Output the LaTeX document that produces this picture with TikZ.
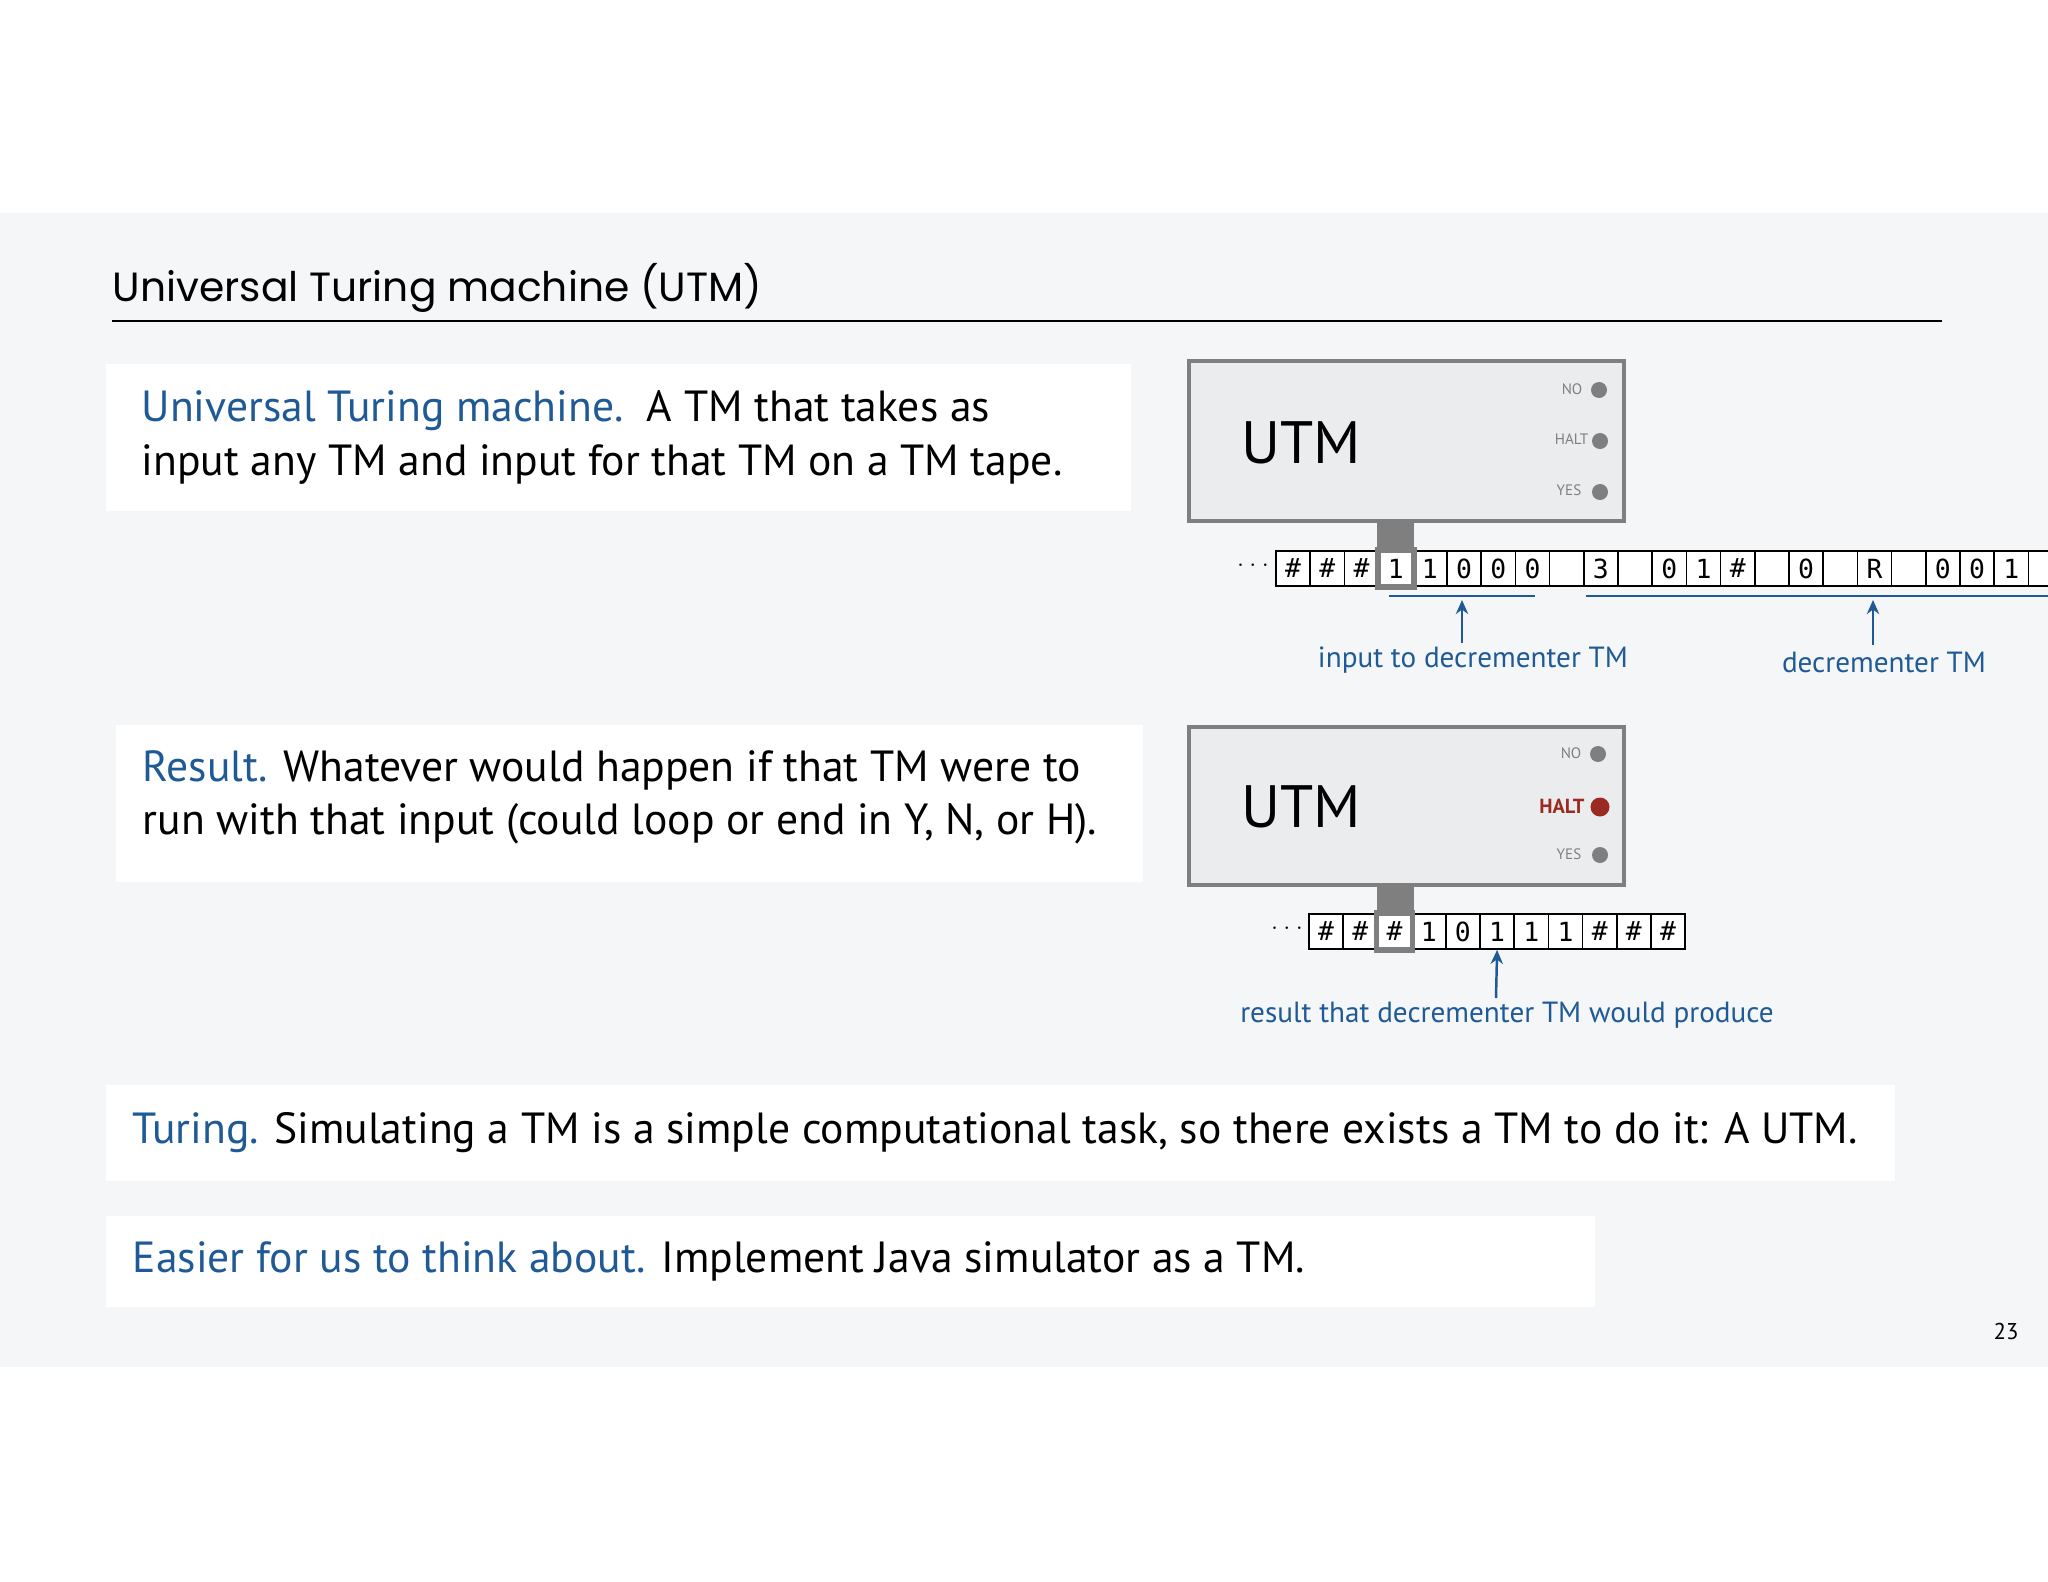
\documentclass[tikz,border=0pt]{standalone}
\usepackage{fontspec}
\setmainfont{PT Sans}
\newfontfamily\tapefont{DejaVu Sans Mono}
\newfontfamily\titlefont{Poppins}
\usetikzlibrary{arrows.meta}
\definecolor{slidebg}{HTML}{F4F6F8}
\definecolor{tmblue}{HTML}{1F5A96}
\definecolor{boxgray}{HTML}{EBECEE}
\definecolor{edgegray}{HTML}{7F7F7F}
\definecolor{haltred}{HTML}{9B2A22}
\tikzset{
  txtbox/.style={fill=white,draw=none},
  body/.style={anchor=west,inner sep=0pt,font=\fontsize{12.4}{14}\selectfont},
  utmbox/.style={fill=boxgray,draw=edgegray,line width=1.4pt},
  cell/.style={draw=black,line width=0.5pt,fill=white,minimum width=0.342cm,minimum height=0.35cm,inner sep=0pt,font=\tapefont\fontsize{7.5}{8}\selectfont},
  lamp/.style={circle,fill=edgegray,inner sep=0pt,minimum size=0.16cm},
  lamplbl/.style={anchor=east,inner sep=0pt,text=edgegray,font=\fontsize{4.3}{5}\selectfont},
  note/.style={text=tmblue,inner sep=0pt,font=\fontsize{8.3}{10}\selectfont},
  pointer/.style={draw=tmblue,line width=0.7pt,-{Stealth[length=4pt,width=3.5pt]}},
  brace/.style={draw=tmblue,line width=0.8pt}
}
\begin{document}
\begin{tikzpicture}[x=0.01cm,y=-0.01cm]
\useasboundingbox (0,0) rectangle (2048,1582);
\fill[white] (0,0) rectangle (2048,1582);
\fill[slidebg] (0,213) rectangle (2048,1367);
\node[anchor=west,inner sep=0pt,font=\titlefont\fontsize{11.6}{14}\selectfont] (title) at (112,288) {Universal Turing machine (UTM)};
\draw[line width=0.4pt] (112,321) -- (1942,321);
% text boxes
\fill[txtbox] (106,364) rectangle (1131,511);
\node[body] (t1a) at (141,411) {\textcolor{tmblue}{Universal Turing machine.}\ \ A TM that takes as};
\node[body] (t1b) at (141,465) {input any TM and input for that TM on a TM tape.};
\fill[txtbox] (116,725) rectangle (1143,882);
\node[body] (t2a) at (142,770) {\textcolor{tmblue}{Result.} Whatever would happen if that TM were to};
\node[body] (t2b) at (142,824) {run with that input (could loop or end in Y, N, or H).};
\fill[txtbox] (106,1085) rectangle (1895,1181);
\node[body] (t3) at (132,1133) {\textcolor{tmblue}{Turing.} Simulating a TM is a simple computational task, so there exists a TM to do it: A UTM.};
\fill[txtbox] (106,1216) rectangle (1595,1307);
\node[body] (t4) at (132,1261) {\textcolor{tmblue}{Easier for us to think about.} Implement Java simulator as a TM.};
\node[inner sep=0pt,font=\fontsize{6.5}{7}\selectfont] (pg) at (2006,1331) {23};
% ---- UTM 1
\fill[edgegray] (1377,520) rectangle (1414,588);
\draw[utmbox] (1189,361) rectangle (1624,521);
\node[anchor=west,inner sep=0pt,font=\fontsize{17}{20}\selectfont] (u1) at (1241,443) {UTM};
\node[lamp] (n1) at (1599,390) {}; \node[lamplbl] at (1583,389) {NO};
\node[lamp] (h1) at (1600,441) {}; \node[lamplbl] at (1589,439) {HALT};
\node[lamp] (y1) at (1600,492) {}; \node[lamplbl] at (1582,490) {YES};
\foreach \s [count=\i from 0] in {\#,\#,\#,1,1,0,0,0,{},3,{},0,1,\#,{},0,{},R,{},0,0,1,{}}{
  \node[cell] (a\i) at ({1276+17.1+34.2*\i},568.5) {\s};
}
\node[inner sep=0pt,font=\fontsize{6}{7}\selectfont] (d1) at (1253,565) {$\cdots$};
\draw[edgegray,line width=1.6pt] (a3.south west) rectangle (a3.north east);
\draw[brace] (1389,596) -- (1535,596);
\draw[brace] (1586,596) -- (2048,596);
\node[note] (l1) at (1473,660) {input to decrementer TM};
\node[note] (l2) at (1884,662) {decrementer TM};
\coordinate (p1) at (1462,600); \coordinate (p2) at (1873,600);
\draw[pointer] (1462,643) -- (p1);
\draw[pointer] (1873,645) -- (p2);
% ---- UTM 2
\fill[edgegray] (1377,884) rectangle (1414,951);
\draw[utmbox] (1189,727) rectangle (1624,885);
\node[anchor=west,inner sep=0pt,font=\fontsize{17}{20}\selectfont] (u2) at (1241,807) {UTM};
\node[lamp] (n2) at (1598,754) {}; \node[lamplbl] at (1582,753) {NO};
\node[lamp,fill=haltred,minimum size=0.19cm] (h2) at (1600,807) {};
\node[lamplbl,text=haltred,font=\bfseries\fontsize{5.8}{6}\selectfont] at (1585,806) {HALT};
\node[lamp] (y2) at (1600,855) {}; \node[lamplbl] at (1582,854) {YES};
\foreach \s [count=\i from 0] in {\#,\#,\#,1,0,1,1,1,\#,\#,\#}{
  \node[cell] (b\i) at ({1309+17.1+34.2*\i},931.5) {\s};
}
\node[inner sep=0pt,font=\fontsize{6}{7}\selectfont] (d2) at (1287,928) {$\cdots$};
\draw[edgegray,line width=1.6pt] (b2.south west) rectangle (b2.north east);
\node[note] (l3) at (1507,1015) {result that decrementer TM would produce};
\draw[pointer] (1496,998) -- (b5.south);
\end{tikzpicture}
\end{document}
